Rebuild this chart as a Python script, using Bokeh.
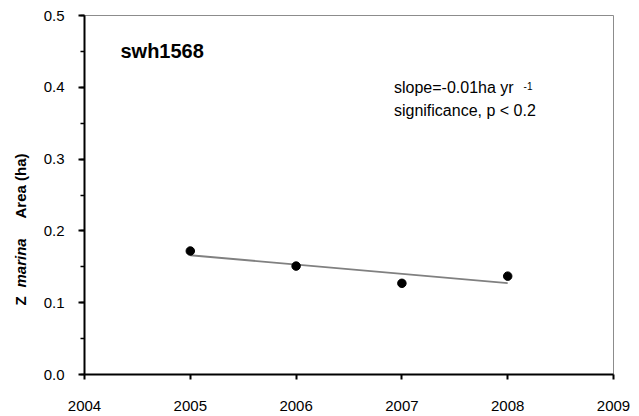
import numpy as np
from math import pi
from bokeh.plotting import figure
from bokeh.layouts import row, column
from bokeh.core.properties import value
from bokeh.models import (Range1d, SingleIntervalTicker, NumeralTickFormatter,
                          Label)
from bokeh.embed import file_html
from bokeh.resources import INLINE

# ---- data ----
years = [2005, 2006, 2007, 2008]
area_ha = [0.172, 0.151, 0.127, 0.137]
site_name = "swh1568"
slope_text = "slope=-0.01ha yr"
slope_sup = "-1"
signif_text = "significance, p < 0.2"
ylab_texts = ["Area (ha)", "marina", "Z"]
ylab_styles = ["bold", "bold italic", "bold"]

# linear trend fitted from the data
coef = np.polyfit(years, area_ha, 1)
trend_x = [min(years), max(years)]
trend_y = [float(np.polyval(coef, v)) for v in trend_x]

FONT = "Liberation Sans"

p = figure(width=599, height=416, output_backend="svg", toolbar_location=None,
           x_range=Range1d(2004, 2009), y_range=Range1d(0, 0.5),
           min_border_left=43, min_border_right=26, min_border_top=15,
           min_border_bottom=42)
p.background_fill_color = "white"
p.border_fill_color = "white"
p.outline_line_color = "#8c8c8c"
p.outline_line_width = 1
p.xgrid.visible = False
p.ygrid.visible = False

# trend line and points
p.line(trend_x, trend_y, line_color="#808080", line_width=1.8)
p.scatter(years, area_ha, size=8.5, fill_color="black", line_color="black")

# x axis
xa = p.xaxis[0]
xa.ticker = SingleIntervalTicker(interval=1, num_minor_ticks=0)
xa.formatter = NumeralTickFormatter(format="0")
xa.axis_line_color = "black"
xa.axis_line_width = 2
xa.major_tick_line_color = "black"
xa.major_tick_line_width = 2
xa.major_tick_out = 5
xa.major_tick_in = 0
xa.minor_tick_line_color = None
xa.major_label_text_font = FONT
xa.major_label_text_font_size = "15px"
xa.major_label_text_color = "black"
xa.major_label_standoff = 21

# y axis
ya = p.yaxis[0]
ya.ticker = SingleIntervalTicker(interval=0.1, num_minor_ticks=2)
ya.formatter = NumeralTickFormatter(format="0.0")
ya.axis_line_color = "black"
ya.axis_line_width = 2
ya.major_tick_line_color = "black"
ya.major_tick_line_width = 2
ya.major_tick_out = 6
ya.major_tick_in = 0
ya.minor_tick_line_color = "black"
ya.minor_tick_line_width = 1.5
ya.minor_tick_out = 4
ya.minor_tick_in = 0
ya.major_label_text_font = FONT
ya.major_label_text_font_size = "15px"
ya.major_label_text_color = "black"
ya.major_label_standoff = 14

# site title
p.add_layout(Label(x=2004.34, y=0.451, text=site_name, text_font=FONT,
                   text_font_size="20px", text_font_style="bold",
                   text_baseline="middle", text_align="left",
                   text_color="black"))

# slope / significance annotation
p.add_layout(Label(x=2006.925, y=0.40, text=slope_text, text_font=FONT,
                   text_font_size="16px", text_baseline="alphabetic",
                   text_align="left", text_color="black"))
p.add_layout(Label(x=2008.15, y=0.4025, text=slope_sup, text_font=FONT,
                   text_font_size="10px", text_baseline="alphabetic",
                   text_align="left", text_color="black"))
p.add_layout(Label(x=2006.925, y=0.368, text=signif_text, text_font=FONT,
                   text_font_size="16px", text_baseline="alphabetic",
                   text_align="left", text_color="black"))

# left strip carrying the y-axis title: one rotated text per canvas,
# stacked top to bottom ("Area (ha)", "marina", "Z")
strip_heights = [229, 62, 125]
start_from_bottom = [11, 4, 111]
strips = []
for txt, style, h, s in zip(ylab_texts, ylab_styles, strip_heights,
                            start_from_bottom):
    q = figure(width=40, height=h, output_backend="svg",
               toolbar_location=None, x_range=Range1d(0, 40),
               y_range=Range1d(0, h), min_border=0)
    q.axis.visible = False
    q.grid.visible = False
    q.outline_line_color = None
    q.background_fill_color = "white"
    q.border_fill_color = "white"
    q.text(x=[20], y=[s], text=[txt], angle=pi / 2,
           text_font=value(FONT), text_font_size=value("15px"),
           text_font_style=value(style), text_baseline=value("middle"),
           text_align=value("left"), text_color="black")
    strips.append(q)

layout = row(column(*strips, spacing=0), p, spacing=0)
open("out.html", "w").write(file_html(layout, INLINE))
